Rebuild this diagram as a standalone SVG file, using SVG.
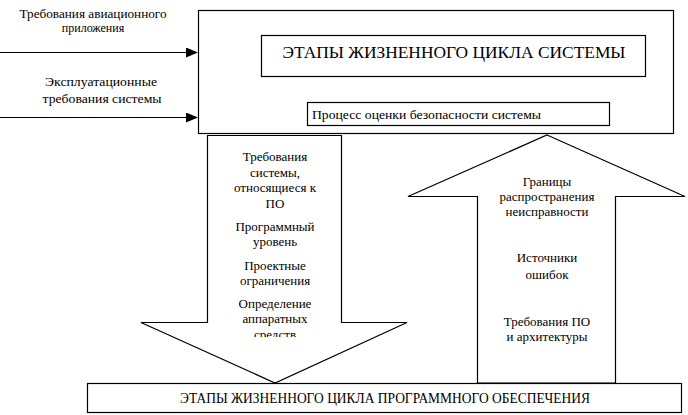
<svg xmlns="http://www.w3.org/2000/svg" width="688" height="415" viewBox="0 0 688 415">
<defs>
<style>
.ln{fill:none;stroke:#000;stroke-width:1.2}
.bx{fill:#fff;stroke:#000;stroke-width:1.2}
text{fill:#000;font-family:"Times New Roman","Liberation Serif","DejaVu Serif",serif}
.t{font-size:13px;text-anchor:middle}
.s{font-size:12px;text-anchor:middle}
.tl{font-size:12.5px}
.big{font-size:17px;text-anchor:middle}
.mid{font-size:14px;text-anchor:middle}
</style>
<marker id="ah" markerWidth="12" markerHeight="10" refX="11" refY="5" orient="auto" markerUnits="userSpaceOnUse">
<path d="M0,0 L12,5 L0,10 Z" fill="#000"/>
</marker>
<clipPath id="clipDown"><rect x="140" y="134" width="270" height="203"/></clipPath>
</defs>
<rect width="688" height="415" fill="#fff"/>

<g id="connectors">
<line class="ln" x1="0" y1="52.5" x2="197" y2="52.5" marker-end="url(#ah)"/>
<line class="ln" x1="0" y1="117.5" x2="197" y2="117.5" marker-end="url(#ah)"/>
</g>

<g id="label-aviation">
<text class="s" x="93" y="18" textLength="147" lengthAdjust="spacingAndGlyphs">Требования авиационного</text>
<text class="s" x="93" y="32">приложения</text>
</g>
<g id="label-operational">
<text class="s" x="101" y="86" textLength="112" lengthAdjust="spacingAndGlyphs">Эксплуатационные</text>
<text class="s" x="102" y="103" textLength="119" lengthAdjust="spacingAndGlyphs">требования системы</text>
</g>

<g id="system-lifecycle">
<rect class="bx" x="198.5" y="10.5" width="475" height="123"/>
<rect class="bx" x="261.5" y="35.5" width="384" height="41"/>
<text class="big" x="454" y="58" textLength="343" lengthAdjust="spacingAndGlyphs">ЭТАПЫ ЖИЗНЕННОГО ЦИКЛА СИСТЕМЫ</text>
</g>

<g id="safety-process">
<rect class="bx" x="307.5" y="102.5" width="302" height="23"/>
<text class="tl" x="312" y="119" textLength="229" lengthAdjust="spacingAndGlyphs">Процесс оценки безопасности системы</text>
</g>

<g id="down-arrow">
<polygon class="bx" points="207.5,135.5 341.5,135.5 341.5,322.5 407,322.5 275,383 141,322.5 207.5,322.5"/>
<g clip-path="url(#clipDown)">
<text class="t" x="275" y="161">Требования</text>
<text class="t" x="275" y="177">системы,</text>
<text class="t" x="275" y="192">относящиеся к</text>
<text class="t" x="275" y="208">ПО</text>
<text class="t" x="275" y="231">Программный</text>
<text class="t" x="275" y="246">уровень</text>
<text class="t" x="275" y="270">Проектные</text>
<text class="t" x="275" y="285">ограничения</text>
<text class="t" x="275" y="308">Определение</text>
<text class="t" x="275" y="323">аппаратных</text>
<text class="t" x="275" y="339">средств</text>
</g>
</g>

<g id="up-arrow">
<polygon class="bx" points="547,135 685,196.5 615.5,196.5 615.5,383 477.5,383 477.5,196.5 408,196.5"/>
<text class="t" x="547" y="186">Границы</text>
<text class="t" x="547" y="201">распространения</text>
<text class="t" x="547" y="216">неисправности</text>
<text class="t" x="547" y="262">Источники</text>
<text class="t" x="547" y="279">ошибок</text>
<text class="t" x="547" y="326">Требования ПО</text>
<text class="t" x="547" y="341">и архитектуры</text>
</g>

<g id="software-lifecycle">
<rect class="bx" x="87.5" y="383.5" width="594" height="29"/>
<text class="mid" x="385" y="403" textLength="410" lengthAdjust="spacingAndGlyphs">ЭТАПЫ ЖИЗНЕННОГО ЦИКЛА ПРОГРАММНОГО ОБЕСПЕЧЕНИЯ</text>
</g>
</svg>
